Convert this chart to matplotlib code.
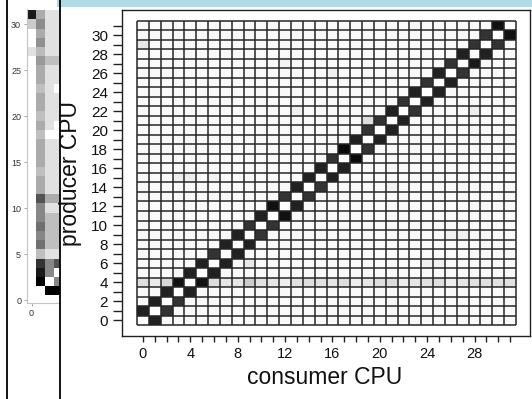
import numpy as np
import matplotlib
matplotlib.use("Agg")
import matplotlib.pyplot as plt
from matplotlib.lines import Line2D
from matplotlib.patches import Rectangle

plt.rcParams['font.family'] = ['Liberation Sans', 'DejaVu Sans']

# ---------------------------------------------------------------- data
cpus = list(range(32))
x_tick_labels = ['0', '4', '8', '12', '16', '20', '24', '28']
y_tick_labels = ['0', '2', '4', '6', '8', '10', '12', '14', '16',
                 '18', '20', '22', '24', '26', '28', '30']

# share of traffic (0 = none, 1 = max) for consumer = producer + 1, producer 0..30
upper_band = [0.87, 0.80, 0.80, 0.87, 0.93, 0.87, 0.87, 0.87, 0.87, 0.80,
              0.80, 0.93, 0.87, 0.80, 0.80, 0.87, 0.87, 0.96, 0.80, 0.87,
              0.87, 0.87, 0.80, 0.87, 0.87, 0.87, 0.80, 0.90, 0.87, 0.80,
              0.93]
# consumer = producer - 1, producer 1..31
lower_band = [0.87, 0.87, 0.87, 0.93, 0.87, 0.87, 0.80, 0.87, 0.87, 0.80,
              0.87, 0.93, 0.80, 0.87, 0.87, 0.87, 0.80, 0.96, 0.87, 0.80,
              0.80, 0.87, 0.80, 0.87, 0.80, 0.87, 0.80, 0.87, 0.80, 0.80,
              0.93]
# producer 4 talks a little to everybody
producer4_row = [0.13, 0.08, 0.16, 0.00, 0.00, 0.00, 0.14, 0.10, 0.10, 0.20,
                 0.12, 0.10, 0.07, 0.12, 0.13, 0.12, 0.10, 0.14, 0.07, 0.10,
                 0.13, 0.14, 0.07, 0.10, 0.12, 0.13, 0.07, 0.10, 0.12, 0.12,
                 0.12, 0.12]
# occasional faint pairs: (consumer, producer, share)
faint_pairs = [(0, 29, 0.10), (3, 15, 0.07), (4, 15, 0.07), (6, 15, 0.05),
               (12, 27, 0.05), (13, 22, 0.06), (19, 21, 0.13), (16, 26, 0.06),
               (28, 22, 0.07), (21, 14, 0.05), (26, 9, 0.06), (27, 9, 0.06),
               (24, 6, 0.06), (25, 6, 0.06), (9, 6, 0.09)]
background_share = 0.025

# narrow side panel: columns 0..3, rows listed from 31 down to 1
strip_rows = [31, 30, 29, 28, 27, 26, 25, 24, 23, 22, 21, 20, 19, 18, 17, 16,
              15, 14, 13, 12, 11, 10, 9, 8, 7, 6, 5, 4, 3, 2, 1]
strip_col0 = [0.90, 0.20, 0.00, 0.00, 0.12, 0.00, 0.00, 0.00, 0.00, 0.00,
              0.00, 0.00, 0.00, 0.00, 0.00, 0.00, 0.00, 0.00, 0.00, 0.00,
              0.00, 0.00, 0.00, 0.00, 0.00, 0.00, 0.00, 0.00, 0.00, 0.00,
              0.00]
strip_col1 = [0.33, 0.45, 0.33, 0.43, 0.27, 0.40, 0.33, 0.33, 0.25, 0.33,
              0.33, 0.25, 0.33, 0.25, 0.33, 0.33, 0.33, 0.25, 0.33, 0.33,
              0.67, 0.47, 0.47, 0.56, 0.47, 0.56, 0.25, 0.80, 0.90, 1.00,
              0.00]
strip_col2 = [0.12, 0.12, 0.12, 0.12, 0.12, 0.25, 0.12, 0.12, 0.12, 0.12,
              0.12, 0.12, 0.12, 0.00, 0.12, 0.12, 0.12, 0.12, 0.12, 0.12,
              0.33, 0.12, 0.25, 0.25, 0.25, 0.25, 0.12, 0.47, 0.47, 0.00,
              1.00]
strip_col3 = [0.12, 0.12, 0.12, 0.12, 0.12, 0.25, 0.12, 0.12, 0.00, 0.12,
              0.12, 0.12, 0.00, 0.00, 0.12, 0.12, 0.12, 0.12, 0.12, 0.12,
              0.33, 0.12, 0.25, 0.25, 0.25, 0.25, 0.12, 0.67, 0.00, 0.47,
              1.00]
strip_ticks = [0, 5, 10, 15, 20, 25, 30]

# ---------------------------------------------------------------- matrix
n = len(cpus)
share = np.full((n, n), background_share)          # [producer, consumer]
np.fill_diagonal(share, 0.0)
share[4, :] = producer4_row
for p, v in enumerate(upper_band):
    share[p, p + 1] = v
for p, v in enumerate(lower_band, start=1):
    share[p, p - 1] = v
for c, p, v in faint_pairs:
    share[p, c] = v

strip = np.column_stack([strip_col0, strip_col1, strip_col2, strip_col3])
order = np.argsort(strip_rows)
strip = strip[order]

# ---------------------------------------------------------------- figure
W, H = 532, 399
fig = plt.figure(figsize=(W / 100, H / 100), dpi=100)
fig.patch.set_facecolor('white')


def box(x0, y0, x1, y1):
    """pixel box (top-left origin) -> figure rect"""
    return [x0 / W, 1 - y1 / H, (x1 - x0) / W, (y1 - y0) / H]


# main heat map
ax = fig.add_axes(box(122, 10, 530, 336))
edges = np.arange(n + 1) - 0.5
ax.pcolormesh(edges, edges, share, cmap='gray_r', vmin=0, vmax=1,
              linewidth=0, antialiased=False)
# cell borders, drawn once per edge
ax.vlines(edges, edges[0], edges[-1], colors='#262626', linewidth=1.1)
ax.hlines(edges, edges[0], edges[-1], colors='#262626', linewidth=1.1)
cw = 379 / 32
rh = 304 / 32
ax.set_xlim(-0.5 - 15 / cw, 31.5 + 14 / cw)
ax.set_ylim(-0.5 - 11 / rh, 31.5 + 11 / rh)
for s in ax.spines.values():
    s.set_color('#222222')
    s.set_linewidth(1.0)
ax.set_xticks(cpus)
ax.set_xticklabels([str(c) if str(c) in x_tick_labels else '' for c in cpus])
ax.set_yticks(cpus)
ax.set_yticklabels([str(c) if str(c) in y_tick_labels else '' for c in cpus])
ax.tick_params(axis='x', length=4, width=1.0, pad=4, labelsize=10.5,
               color='#222222', labelcolor='#111111')
ax.tick_params(axis='y', length=6.5, width=1.0, pad=3.5, labelsize=11,
               color='#222222', labelcolor='#111111')

fig.text(325 / W, 1 - 384 / H, 'consumer CPU', ha='center', va='baseline',
         fontsize=16.5, color='#111111')
fig.text(77.5 / W, 1 - 173.5 / H, 'producer CPU', ha='center', va='baseline',
         rotation=90, rotation_mode='anchor', fontsize=16.5, color='#111111')

# narrow side panel
ax2 = fig.add_axes(box(26.7, 9, 60, 303.3))
ax2.pcolormesh(np.arange(5) - 0.5, np.arange(1, 33) - 0.5, strip,
               cmap='gray_r', vmin=0, vmax=1)
ax2.set_xlim((26.7 - 31.5) / 9, (60 - 31.5) / 9)
ax2.set_ylim((300 - 303.3) / 9.2, (300 - 9) / 9.2)
for side in ('top', 'right'):
    ax2.spines[side].set_visible(False)
for side in ('left', 'bottom'):
    ax2.spines[side].set_color('#c4c4c4')
    ax2.spines[side].set_linewidth(0.8)
ax2.set_yticks(strip_ticks)
ax2.set_xticks([0])
ax2.tick_params(length=2.5, width=0.6, pad=1.5, labelsize=6.5,
                color='#999999', labelcolor='#333333')

# page furniture
fig.add_artist(Rectangle((57 / W, 1 - 6.5 / H), 1 - 57 / W, 6.5 / H,
                         transform=fig.transFigure, facecolor='#b0dbe6',
                         edgecolor='none'))
for xp in (6.8, 60.2):
    fig.add_artist(Line2D([xp / W, xp / W], [0, 1], transform=fig.transFigure,
                          color='black', linewidth=1.3))

fig.savefig('out.png', dpi=100)
